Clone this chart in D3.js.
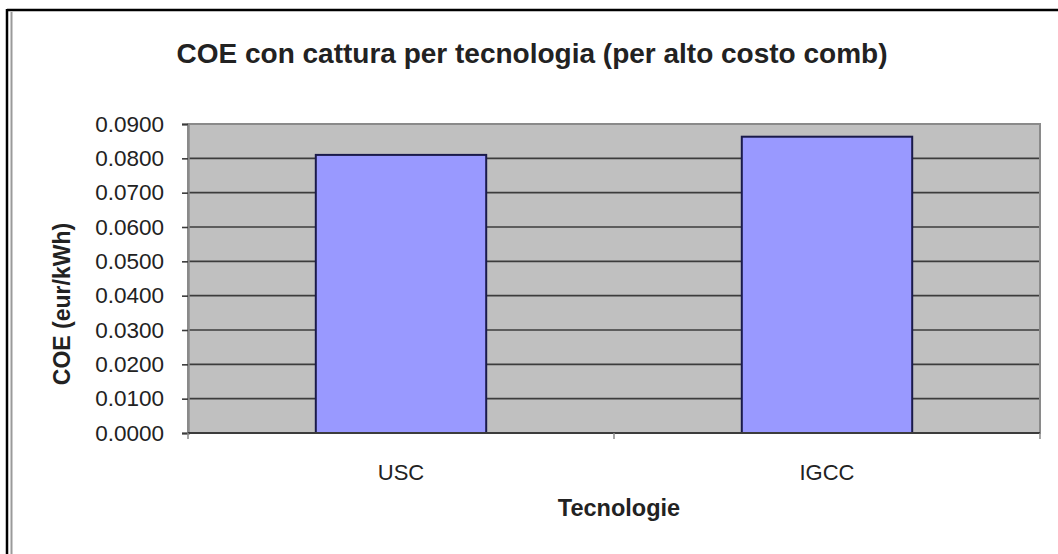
<!DOCTYPE html>
<html>
<head>
<meta charset="utf-8">
<script src="https://cdn.jsdelivr.net/npm/d3@7"></script>
<style>
  html, body { margin: 0; padding: 0; background: #fff; }
  svg { display: block; }
  text { font-family: "Liberation Sans", Arial, sans-serif; fill: #222; }
</style>
</head>
<body>
<svg id="chart" width="1058" height="554"></svg>
<script>
// COE with carbon capture, high fuel cost scenario
const categories = ["USC", "IGCC"];
const coeValues = [0.0810, 0.0863];
const yTicks = [0, 0.01, 0.02, 0.03, 0.04, 0.05, 0.06, 0.07, 0.08, 0.09];

const titleText = "COE con cattura per tecnologia (per alto costo comb)";
const yTitleText = "COE (eur/kWh)";
const xTitleText = "Tecnologie";

const svg = d3.select("#chart");
const W = 1058, H = 554;
const plot = { left: 188, right: 1040, top: 124, bottom: 433 };

// outer frame (left and top edges)
svg.append("line").attr("x1", 7).attr("x2", W).attr("y1", 10).attr("y2", 10)
  .attr("stroke", "#000").attr("stroke-width", 2.5);
svg.append("line").attr("x1", 7).attr("x2", 7).attr("y1", 9).attr("y2", H)
  .attr("stroke", "#000").attr("stroke-width", 2.5);
svg.append("line").attr("x1", 11.5).attr("x2", 11.5).attr("y1", 12).attr("y2", H)
  .attr("stroke", "#9a9a9a").attr("stroke-width", 2);

const x = d3.scaleBand()
  .domain(categories)
  .range([plot.left, plot.right])
  .paddingInner(0.6)
  .paddingOuter(0.3);

const y = d3.scaleLinear()
  .domain([0, 0.09])
  .range([plot.bottom, plot.top]);

// plot background
svg.append("rect")
  .attr("x", plot.left).attr("y", plot.top)
  .attr("width", plot.right - plot.left).attr("height", plot.bottom - plot.top)
  .attr("fill", "#c0c0c0");

// horizontal gridlines
svg.append("g").selectAll("line")
  .data(yTicks.filter(d => d > 0 && d < 0.09))
  .join("line")
  .attr("x1", plot.left).attr("x2", plot.right)
  .attr("y1", d => y(d)).attr("y2", d => y(d))
  .attr("stroke", "#3c3c3c").attr("stroke-width", 1.6);

// plot border
svg.append("rect")
  .attr("x", plot.left).attr("y", plot.top)
  .attr("width", plot.right - plot.left).attr("height", plot.bottom - plot.top)
  .attr("fill", "none").attr("stroke", "#8a8a8a").attr("stroke-width", 2);

// bars
svg.append("g").selectAll("rect")
  .data(categories.map((c, i) => ({ c, v: coeValues[i] })))
  .join("rect")
  .attr("x", d => x(d.c))
  .attr("y", d => y(d.v))
  .attr("width", x.bandwidth())
  .attr("height", d => y(0) - y(d.v))
  .attr("fill", "#9999ff")
  .attr("stroke", "#1a1a4a").attr("stroke-width", 2);

// y axis
const yAxis = svg.append("g")
  .attr("transform", `translate(${plot.left},0)`)
  .call(d3.axisLeft(y).tickValues(yTicks).tickFormat(d3.format(".4f"))
    .tickSize(6).tickPadding(18));
yAxis.select(".domain").attr("stroke", "#8a8a8a").attr("stroke-width", 2.5);
yAxis.selectAll(".tick line").attr("stroke", "#3c3c3c").attr("stroke-width", 1.6);
yAxis.selectAll(".tick text")
  .attr("font-size", 22.5).attr("fill", "#333")
  .style("font-family", "'Liberation Sans', Arial, sans-serif");

// x axis: category boundaries as ticks
svg.append("line")
  .attr("x1", plot.left).attr("x2", plot.right)
  .attr("y1", plot.bottom).attr("y2", plot.bottom)
  .attr("stroke", "#3c3c3c").attr("stroke-width", 1.8);
const boundaries = [plot.left, (x(categories[0]) + x.bandwidth() + x(categories[1])) / 2, plot.right];
svg.append("g").selectAll("line")
  .data(boundaries)
  .join("line")
  .attr("x1", d => d).attr("x2", d => d)
  .attr("y1", plot.bottom).attr("y2", plot.bottom + 6)
  .attr("stroke", "#8a8a8a").attr("stroke-width", 1.5);

svg.append("g").selectAll("text")
  .data(categories)
  .join("text")
  .attr("x", d => x(d) + x.bandwidth() / 2)
  .attr("y", 480)
  .attr("text-anchor", "middle")
  .attr("font-size", 22)
  .attr("fill", "#333")
  .text(d => d);

// titles
svg.append("text")
  .attr("x", 532).attr("y", 63)
  .attr("text-anchor", "middle")
  .attr("font-size", 28).attr("font-weight", "bold")
  .text(titleText);

svg.append("text")
  .attr("transform", "translate(70,304) rotate(-90)")
  .attr("text-anchor", "middle")
  .attr("font-size", 23).attr("font-weight", "bold")
  .text(yTitleText);

svg.append("text")
  .attr("x", 619).attr("y", 516)
  .attr("text-anchor", "middle")
  .attr("font-size", 23.5).attr("font-weight", "bold")
  .text(xTitleText);
</script>
</body>
</html>
